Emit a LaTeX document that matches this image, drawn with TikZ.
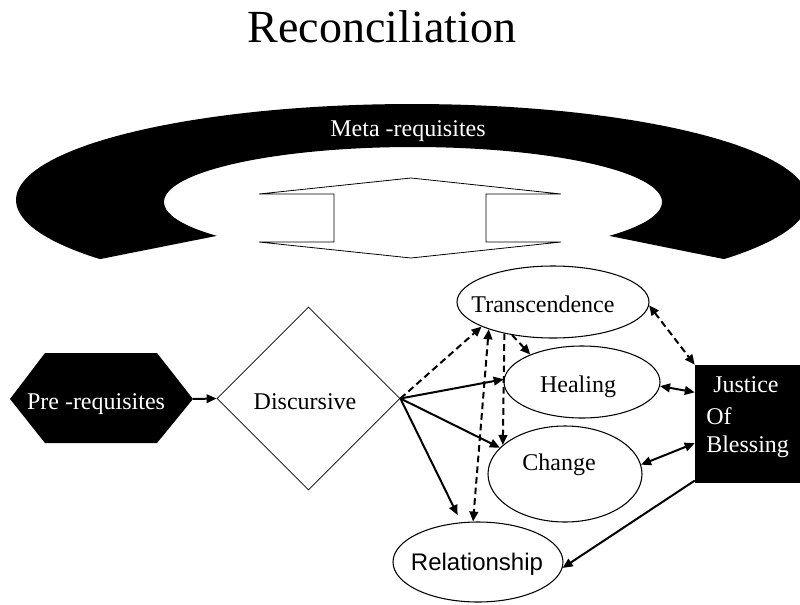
\documentclass[tikz,border=0pt]{standalone}
\usepackage{fontspec}
\setmainfont{Liberation Serif}
\newfontfamily\arialfont{Liberation Sans}
\usetikzlibrary{arrows.meta,shapes.geometric}
\newlength\pxu
\setlength\pxu{0.75pt}

\begin{document}
\begin{tikzpicture}[x=0.75pt,y=-0.75pt,
  >={Triangle[length=7.5pt,width=6.5pt]},
  ell/.style={draw, ellipse, line width=0.8pt, inner sep=0pt},
  lbl/.style={anchor=base, inner sep=0pt, font=\fontsize{18}{21}\selectfont},
  link/.style={line width=1.5pt, ->},
  twoway/.style={line width=1.5pt, <->},
  dashlink/.style={line width=1.5pt, dash pattern=on 5pt off 3pt, ->},
  dashtwoway/.style={line width=1.5pt, dash pattern=on 5pt off 3pt, <->}
]
\useasboundingbox (0,0) rectangle (800,604);
\clip (0,0) rectangle (800,604);

% title
\node[anchor=base, inner sep=0pt, font=\fontsize{34.5}{40}\selectfont] (title) at (382,42) {Reconciliation};

% black ring of the meta-requisites
\fill[black]
  plot[domain=218:-38, samples=120, variable=\t] ({412+396*cos(\t)},{200-96*sin(\t)})
  -- plot[domain=-38:218, samples=120, variable=\t] ({413+249*cos(\t)},{202-55*sin(\t)})
  -- cycle;
\node[lbl, text=white] (meta) at (408,136) {Meta -requisites};

% up-down double arrow inside the ring
\draw[line width=0.6pt, fill=white]
  (259,194) -- (411,178) -- (561,194) -- (486,194) -- (486,242) -- (561,242)
  -- (411,258) -- (259,242) -- (334,242) -- (334,194) -- cycle;

% pre-requisites hexagon
\fill[black] (10,399) -- (45,353) -- (157,353) -- (193,399) -- (157,443) -- (45,443) -- cycle;
\node[lbl, text=white] (pre) at (96,409) {Pre -requisites};
\coordinate (pretip) at (193,399);

% discursive diamond
\node[draw, diamond, aspect=1, line width=0.6pt, inner sep=0pt,
      minimum width=183\pxu, minimum height=183\pxu] (disc) at (308.5,398.5) {};
\node[lbl] (disctext) at (305,409) {Discursive};

% outcome ellipses
\node[ell, minimum width=192\pxu, minimum height=72\pxu] (trans) at (553,302) {};
\node[lbl] (transtext) at (543,312) {Transcendence};
\node[ell, minimum width=156\pxu, minimum height=72\pxu] (heal) at (582,382) {};
\node[lbl] (healtext) at (578,392) {Healing};
\node[ell, minimum width=154\pxu, minimum height=96\pxu] (change) at (565,474) {};
\node[lbl] (changetext) at (559,470) {Change};
\node[ell, minimum width=170\pxu, minimum height=80\pxu] (rel) at (478,562) {};
\node[lbl, font=\arialfont\fontsize{18}{21}\selectfont] (reltext) at (477,570) {Relationship};

% justice box
\node[fill=black, inner sep=0pt, minimum width=105\pxu, minimum height=118\pxu] (just) at (747.5,424) {};
\node[lbl, anchor=base west, text=white] (j1) at (713,392) {Justice};
\node[lbl, anchor=base west, text=white] (j2) at (706,424) {Of};
\node[lbl, anchor=base west, text=white] (j3) at (706,452) {Blessing};

% connectors
\draw[link] (pretip) -- (disc.west);
\draw[link] (disc.east) -- (heal.178);
\draw[link] (disc.east) -- (change.158);
\draw[link, shorten >=6pt] (disc.east) -- (rel.113);
\draw[dashlink] (disc.east) -- (trans.199);
\draw[dashtwoway] (trans.203) -- (rel.97);
\draw[dashlink] (trans.213) -- (change.155);
\draw[dashlink] (trans.219) -- (heal.152);
\draw[dashtwoway] (trans.358) -- (just.north west);
\draw[twoway] (heal.357) -- (just.149);
\draw[twoway] (change.7) -- (just.200);
\draw[link] (just.227) -- (rel.356);
\end{tikzpicture}
\end{document}
